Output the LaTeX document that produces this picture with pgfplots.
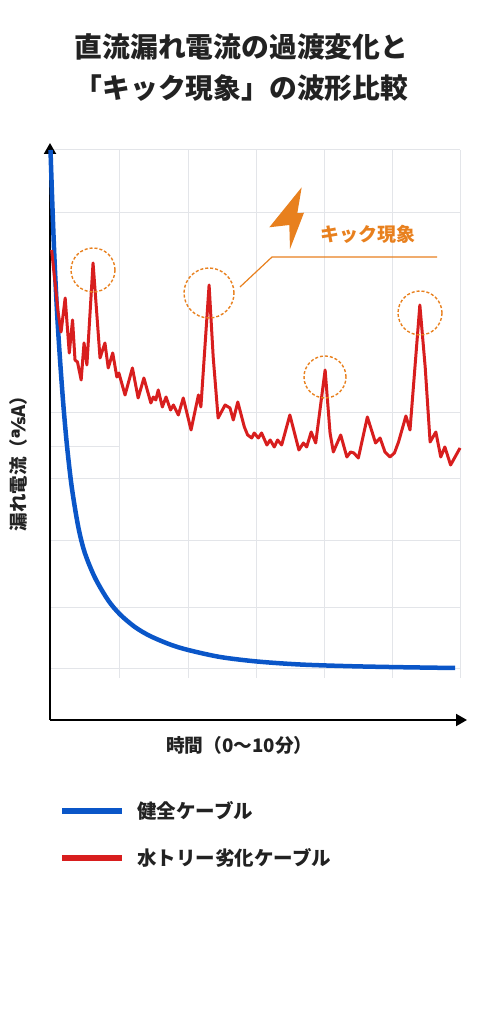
\documentclass[border=0pt]{standalone}
\usepackage{pgfplots}
\pgfplotsset{compat=1.18}
\usetikzlibrary{arrows.meta}
\usepackage{fontspec}
\setmainfont{Noto Sans CJK JP}
\newfontfamily\dejavu{DejaVu Sans}
\definecolor{tcol}{HTML}{222222}
\definecolor{bluec}{HTML}{0A56C8}
\definecolor{redc}{HTML}{D81E1E}
\definecolor{orc}{HTML}{E8801E}
\definecolor{gridc}{HTML}{E3E5E9}

\pgfplotstableread{
x y
0.012 570
0.05 524
0.09 480
0.13 442
0.18 402
0.24 363
0.32 318
0.41 276
0.53 233
0.69 193
0.85 167
1.10 142
1.42 119.6
1.71 105.5
2.07 93
2.44 84
2.93 75.5
3.37 70
4.15 63
5.05 58.5
6.10 55.5
7.32 53.8
8.54 52.8
9.88 52
}\healthy

\pgfplotstableread{
x y
0.04 470
0.20 407
0.27 388
0.37 422
0.47 367
0.55 400
0.61 360
0.67 358
0.76 340
0.83 377
0.90 355
1.05 457
1.14 407
1.22 362
1.34 377
1.42 352
1.53 367
1.63 343
1.68 347
1.83 325
2.01 352
2.15 322
2.29 342
2.46 317
2.52 323
2.58 320
2.64 330
2.74 313
2.83 323
2.94 310
3.01 315
3.13 305
3.25 322
3.44 290
3.62 325
3.68 313
3.88 435
3.98 363
4.10 302
4.27 315
4.39 312
4.47 300
4.58 318
4.74 293
4.82 285
4.92 282
4.98 287
5.08 282
5.16 287
5.29 275
5.37 280
5.47 273
5.55 280
5.65 275
5.85 305
6.07 270
6.18 277
6.26 273
6.37 288
6.48 277
6.71 350
6.83 287
6.91 268
7.09 285
7.24 263
7.33 268
7.41 267
7.52 262
7.74 303
7.94 277
8.05 282
8.17 268
8.29 263
8.40 267
8.50 278
8.68 304
8.78 290
9.02 415
9.15 353
9.27 278
9.41 288
9.53 263
9.63 273
9.77 255
10.00 272
}\degraded

\begin{document}
\begin{tikzpicture}
\begin{axis}[
  at={(50bp,304bp)}, anchor=south west,
  scale only axis, width=417bp, height=577bp,
  xmin=0, xmax=10.17, ymin=0, ymax=577,
  axis x line=bottom, axis y line=left,
  axis line style={line width=2bp, black},
  x axis line style={-{Triangle[length=11bp,width=12bp]}},
  y axis line style={-{Triangle[length=11bp,width=12bp]}},
  xtick=\empty, ytick=\empty,
  clip=false, set layers,
  xlabel={時間（0〜10分）},
  xlabel style={font=\bfseries\fontsize{18.7bp}{20bp}\selectfont, text=tcol, at={(axis cs:4.62,-25)}, anchor=center},
  ylabel={漏れ電流（{\dejavu ℁}A）},
  ylabel style={font=\bfseries\fontsize{18.5bp}{20bp}\selectfont, text=tcol, at={(axis cs:-0.76,261)}, anchor=center},
  legend style={draw=none, fill=none, at={(rel axis cs:0.0216,-0.137)}, anchor=north west,
    inner sep=0pt, column sep=10bp, row sep=25bp,
    font=\bfseries\fontsize{19.5bp}{21bp}\selectfont, text=tcol},
  legend cell align=left,
  legend image code/.code={\draw[#1, line width=6bp] (0bp,0bp) -- (60bp,0bp);},
]
\begin{pgfonlayer}{axis background}
  \pgfplotsinvokeforeach{570,507,307,241,179,112,51}{
    \draw[gridc, line width=1bp] (axis cs:0,#1) -- (axis cs:10,#1);
  }
  \draw[gridc, line width=1bp] (axis cs:0,273) -- (axis cs:1.707,273);
  \pgfplotsinvokeforeach{1.707,3.366,5.024,6.683,8.341,10}{
    \draw[gridc, line width=1bp] (axis cs:#1,570) -- (axis cs:#1,42);
  }
\end{pgfonlayer}
\addplot[bluec, line width=4.5bp, smooth, tension=0.5] table[x=x,y=y] {\healthy};
\addlegendentry{健全ケーブル}
\addplot[redc, line width=3bp, line join=round] table[x=x,y=y] {\degraded};
\addlegendentry{水トリー劣化ケーブル}
\end{axis}
% title
\node[font=\bfseries\fontsize{27.8bp}{32bp}\selectfont, text=tcol] at (241.5bp,977bp) {直流漏れ電流の過渡変化と};
\node[font=\bfseries\fontsize{27.8bp}{32bp}\selectfont, text=tcol] at (241.5bp,936bp) {「キック現象」の波形比較};
% annotations
\begin{scope}[orc, line width=1.4bp, dash pattern=on 3bp off 2bp]
  \draw (93bp,754bp) circle[radius=22bp];
  \draw (209bp,731bp) circle[radius=25bp];
  \draw (325bp,647bp) circle[radius=21bp];
  \draw (420bp,711bp) circle[radius=22bp];
\end{scope}
\draw[orc, line width=1.2bp] (240bp,737bp) -- (272bp,767bp) -- (437bp,767bp);
\fill[orc] (301.7bp,836.7bp) -- (269.3bp,796.7bp) -- (289.3bp,799bp) -- (290bp,775bp) -- (304bp,811.3bp) -- (297.3bp,810.7bp) -- cycle;
\node[font=\bfseries\fontsize{19bp}{21bp}\selectfont, text=orc] at (368.3bp,790bp) {キック現象};
\pgfresetboundingbox
\path (0bp,0bp) rectangle (483bp,1024bp);
\end{tikzpicture}
\end{document}
